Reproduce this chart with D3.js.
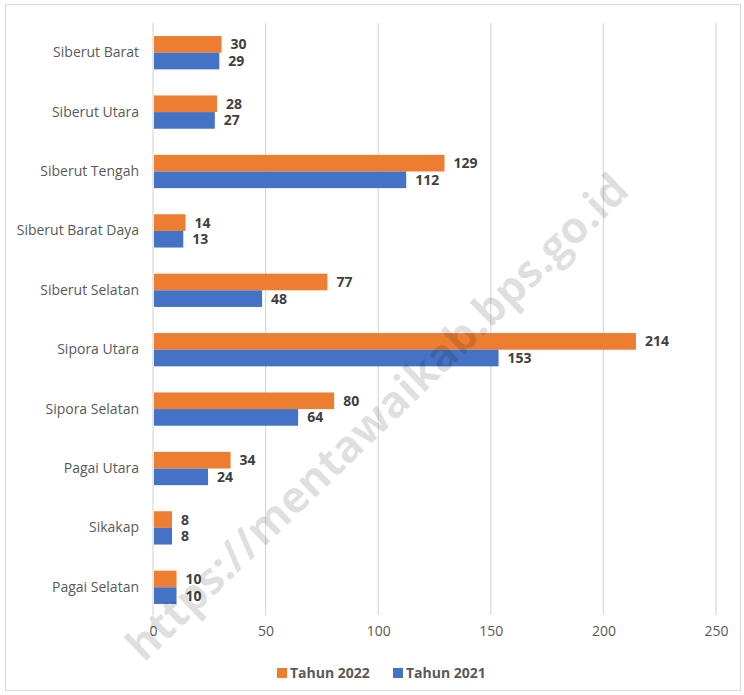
<!DOCTYPE html>
<html>
<head>
<meta charset="utf-8">
<script src="https://cdn.jsdelivr.net/npm/d3@7"></script>
<style>
  body { margin: 0; background: #fff; }
  svg { display: block; font-family: "Open Sans", "Noto Sans", sans-serif; }
</style>
</head>
<body>
<div class="chart"></div>
<script>
// categories top to bottom
var categories = ["Siberut Barat", "Siberut Utara", "Siberut Tengah", "Siberut Barat Daya",
  "Siberut Selatan", "Sipora Utara", "Sipora Selatan", "Pagai Utara", "Sikakap", "Pagai Selatan"];
var series = ["Tahun 2022", "Tahun 2021"];
var values2022 = [30, 28, 129, 14, 77, 214, 80, 34, 8, 10];
var values2021 = [29, 27, 112, 13, 48, 153, 64, 24, 8, 10];
var xTicks = [0, 50, 100, 150, 200, 250];
var colors = ["#ED7D31", "#4472C4"];

var svgWidth = 744;
var svgHeight = 695;
var margin = {top: 23, right: 28, bottom: 78, left: 153};
var width = svgWidth - margin.left - margin.right;
var height = svgHeight - margin.top - margin.bottom;

var svg = d3.select('.chart')
  .append('svg')
  .attr('width', svgWidth)
  .attr('height', svgHeight);

// outer frame
svg.append('rect')
  .attr('x', 5.5).attr('y', 4.5)
  .attr('width', 735).attr('height', 686)
  .attr('fill', 'none').attr('stroke', '#d9d9d9');

var chart = svg.append('g')
  .attr('transform', 'translate(' + margin.left + ',' + margin.top + ')');

var x = d3.scaleLinear().domain([0, 250]).range([0, width]);
var y = d3.scaleBand().domain(categories).range([0, height]).paddingInner(0.44).paddingOuter(0.22);
var ySub = d3.scaleBand().domain(series).range([0, y.bandwidth()]);

// gridlines
chart.selectAll('.grid').data(xTicks).enter().append('line')
  .attr('x1', function(d) { return x(d); })
  .attr('x2', function(d) { return x(d); })
  .attr('y1', 0).attr('y2', height - 2)
  .attr('stroke', '#d9d9d9').attr('stroke-width', 1.2);

// x axis labels
var xAxis = d3.axisBottom(x).tickValues(xTicks).tickSize(0).tickPadding(0);
var gx = chart.append('g').attr('transform', 'translate(0,' + (height + 9) + ')').call(xAxis);
gx.select('.domain').remove();
gx.selectAll('text').attr('font-size', 14).attr('fill', '#595959')
  .attr('font-family', '"Open Sans", sans-serif');

// y axis labels
var yAxis = d3.axisLeft(y).tickSize(0).tickPadding(14);
var gy = chart.append('g').call(yAxis);
gy.select('.domain').remove();
gy.selectAll('text').attr('font-size', 14).attr('fill', '#595959')
  .attr('font-family', '"Open Sans", sans-serif');

var rows = categories.map(function(c, i) {
  return [{cat: c, s: series[0], v: values2022[i]}, {cat: c, s: series[1], v: values2021[i]}];
});

var groups = chart.selectAll('.grp').data(rows).enter().append('g')
  .attr('transform', function(d) { return 'translate(0,' + y(d[0].cat) + ')'; });

groups.selectAll('rect').data(function(d) { return d; }).enter().append('rect')
  .attr('x', x(0) + 1)
  .attr('y', function(d) { return ySub(d.s); })
  .attr('width', function(d) { return x(d.v) - x(0); })
  .attr('height', ySub.bandwidth())
  .attr('fill', function(d, i) { return colors[i]; });

groups.selectAll('text').data(function(d) { return d; }).enter().append('text')
  .attr('x', function(d) { return x(d.v) + 10; })
  .attr('y', function(d) { return ySub(d.s) + ySub.bandwidth() / 2; })
  .attr('dy', '0.36em')
  .attr('font-size', 14).attr('font-weight', 'bold').attr('fill', '#404040')
  .text(function(d) { return d.v; });

// legend
var legend = svg.append('g').attr('transform', 'translate(277,673)');
var legendX = [0, 116];
series.forEach(function(s, i) {
  var g = legend.append('g').attr('transform', 'translate(' + legendX[i] + ',0)');
  g.append('rect').attr('x', 0).attr('y', -5).attr('width', 10).attr('height', 10).attr('fill', colors[i]);
  g.append('text').attr('x', 13).attr('y', 0).attr('dy', '0.36em')
    .attr('font-size', 14).attr('font-weight', 'bold').attr('fill', '#595959').text(s);
});

// watermark
svg.append('text')
  .attr('transform', 'translate(377,417) rotate(-44)')
  .attr('text-anchor', 'middle').attr('dy', '0.35em')
  .attr('font-size', 44).attr('font-weight', 'bold')
  .attr('font-family', '"Open Sans", sans-serif')
  .attr('fill', '#000').attr('fill-opacity', 0.12)
  .text('https://mentawaikab.bps.go.id');
</script>
</body>
</html>
